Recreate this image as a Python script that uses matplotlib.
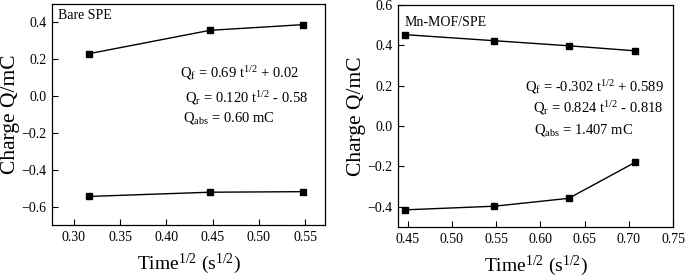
import matplotlib
matplotlib.use("Agg")
import matplotlib.pyplot as plt

plt.rcParams['font.family'] = ['Liberation Serif', 'DejaVu Serif']
plt.rcParams['mathtext.fontset'] = 'custom'
plt.rcParams['mathtext.rm'] = 'Liberation Serif'
plt.rcParams['mathtext.it'] = 'Liberation Serif:italic'
plt.rcParams['axes.unicode_minus'] = True

# Bare SPE
x_bare = [0.316, 0.447, 0.548]
qf_bare = [0.230, 0.357, 0.388]
qr_bare = [-0.545, -0.522, -0.519]

# Mn-MOF/SPE
x_mof = [0.447, 0.548, 0.632, 0.707]
qf_mof = [0.453, 0.423, 0.398, 0.373]
qr_mof = [-0.415, -0.397, -0.358, -0.180]

fig = plt.figure(figsize=(6.85, 2.78), dpi=100)
W, H = 685, 278
ax1 = fig.add_axes([52/W, 1-225/H, (325-52)/W, (225-4)/H])
ax2 = fig.add_axes([398/W, 1-227/H, (673-398)/W, (227-5)/H])

def style(ax):
    ax.tick_params(direction='in', length=4, width=0.8, labelsize=10, top=False, right=False, pad=4)
    for s in ax.spines.values():
        s.set_linewidth(0.9)
    ax.set_ylabel('Charge Q/mC', fontsize=15.5, labelpad=1)
    ax.set_xlabel(r'Time$^\mathregular{1/2}$ (s$^\mathregular{1/2}$)', fontsize=14, labelpad=6)

for ax, x, a, b in [(ax1, x_bare, qf_bare, qr_bare), (ax2, x_mof, qf_mof, qr_mof)]:
    ax.plot(x, a, 'k-s', lw=1.0, ms=4)
    ax.plot(x, b, 'k-s', lw=1.0, ms=4)
    style(ax)

ax1.set_xlim(0.2762, 0.5716)
ax1.set_ylim(-0.7, 0.5)
ax1.set_xticks([0.30, 0.35, 0.40, 0.45, 0.50, 0.55])
ax1.set_yticks([-0.6, -0.4, -0.2, 0.0, 0.2, 0.4])

ax2.set_xlim(0.439, 0.75)
ax2.set_ylim(-0.5, 0.6)
ax2.set_xticks([0.45, 0.50, 0.55, 0.60, 0.65, 0.70, 0.75])
ax2.set_yticks([-0.4, -0.2, 0.0, 0.2, 0.4, 0.6])

fs = 10.5
ax1.text(0.022, 0.95, 'Bare SPE', transform=ax1.transAxes, fontsize=10, va='center')
ax1.text(0.469, 0.688, r'Q$_\mathregular{f}$ = 0.69 t$^\mathregular{1/2}$ + 0.02', transform=ax1.transAxes, fontsize=fs, va='center')
ax1.text(0.487, 0.575, r'Q$_\mathregular{r}$ = 0.120 t$^\mathregular{1/2}$ - 0.58', transform=ax1.transAxes, fontsize=fs, va='center')
ax1.text(0.48, 0.484, r'Q$_\mathregular{abs}$ = 0.60 mC', transform=ax1.transAxes, fontsize=fs, va='center')

ax2.text(0.025, 0.92, 'Mn-MOF/SPE', transform=ax2.transAxes, fontsize=10, va='center')
ax2.text(0.462, 0.63, r'Q$_\mathregular{f}$ = -0.302 t$^\mathregular{1/2}$ + 0.589', transform=ax2.transAxes, fontsize=fs, va='center')
ax2.text(0.49, 0.536, r'Q$_\mathregular{r}$ = 0.824 t$^\mathregular{1/2}$ - 0.818', transform=ax2.transAxes, fontsize=fs, va='center')
ax2.text(0.495, 0.437, r'Q$_\mathregular{abs}$ = 1.407 mC', transform=ax2.transAxes, fontsize=fs, va='center')

fig.savefig('out.png', dpi=100)
